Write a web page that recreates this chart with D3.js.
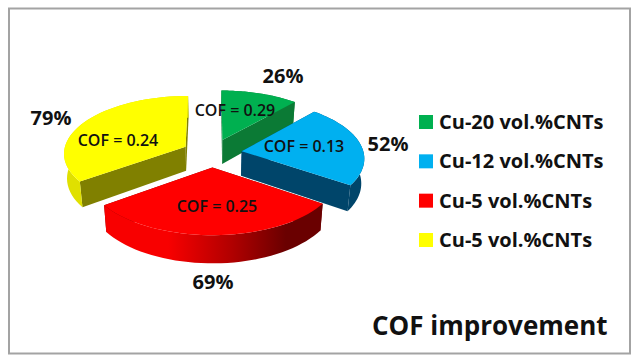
<!DOCTYPE html>
<html>
<head>
<meta charset="utf-8">
<script src="https://cdn.jsdelivr.net/npm/d3@7"></script>
<style>
    html, body { margin: 0; padding: 0; background: #fff; }
    svg { display: block; }
    text { font-family: "Open Sans", Lato, sans-serif; font-weight: 700; fill: #111; }
</style>
</head>
<body>
<div id="chart"></div>
<script>
// Chart values
const categories = ["Cu-20 vol.%CNTs", "Cu-12 vol.%CNTs", "Cu-5 vol.%CNTs", "Cu-5 vol.%CNTs"];
const improvement = [26, 52, 69, 79];
const cofValues = [0.29, 0.13, 0.25, 0.24];
const chartTitle = "COF improvement";

// Colours
const topColors = ["#00b050", "#00b0f0", "#ff0000", "#ffff00"];
const wallColors = ["#0b7a35", "#00456a", "#7a0000", "#808000"];
const rimColors = ["#0b7a35", "#00456a", "url(#redRim)", "#e0e000"];

// Layout: the exploded pie sits on a tilted plane seen in perspective
const width = 634, height = 362;
const pieCfg = { cx: 212, cy: 153, radius: 122, explode: 30, depth: 24.5, tilt: 0.47, persp: 0.00086, shrink: 0.98 };
const cofPos = [[235, 110], [304, 146], [217, 206], [118, 140]];
const pctPos = [[283, 76], [388, 144], [213, 282], [51, 118]];

const svg = d3.select("#chart").append("svg")
    .attr("width", width)
    .attr("height", height);

// Red wedge rim goes from bright to dark, left to right
const grad = svg.append("defs").append("linearGradient")
    .attr("id", "redRim")
    .attr("gradientUnits", "userSpaceOnUse")
    .attr("x1", 104).attr("x2", 318).attr("y1", 0).attr("y2", 0);
grad.append("stop").attr("offset", "0.3").attr("stop-color", "#f80000");
grad.append("stop").attr("offset", "0.6").attr("stop-color", "#b00000");
grad.append("stop").attr("offset", "0.85").attr("stop-color", "#6a0000");

// Outer frame
svg.append("rect")
    .attr("x", 9).attr("y", 8.5)
    .attr("width", 621).attr("height", 345)
    .attr("fill", "#fff")
    .attr("stroke", "#a3a3a3")
    .attr("stroke-width", 2);

const pie = d3.pie().sort(null).value(d => d);
const arcs = pie(improvement);

// plane coordinates (u right, v away from viewer) to screen
function project(u, v) {
    const w = 1 + pieCfg.persp * v;
    return { x: pieCfg.cx + u / w, y: pieCfg.cy - pieCfg.tilt * v / w, w: w };
}

// outline of one wedge on the plane: [apex, arc points...]
function wedgeArc(d) {
    const mid = (d.startAngle + d.endAngle) / 2;
    const ou = pieCfg.explode * Math.sin(mid);
    const ov = pieCfg.explode * Math.cos(mid);
    const pts = d3.range(0, 41).map(i => {
        const a = d.startAngle + (d.endAngle - d.startAngle) * i / 40;
        return project(ou + pieCfg.radius * Math.sin(a), ov + pieCfg.radius * Math.cos(a));
    });
    return { apex: project(ou, ov), pts: pts };
}

const line = d3.line().x(d => d.x).y(d => d.y);
// the bottom face is a bit narrower than the top
const lower = p => ({
    x: pieCfg.cx + (p.x - pieCfg.cx) * pieCfg.shrink,
    y: p.y + pieCfg.depth / p.w
});

// back to front
const drawOrder = [0, 3, 1, 2];
const wedges = svg.selectAll(".wedge")
    .data(drawOrder)
    .enter().append("g")
    .attr("class", "wedge");

wedges.each(function (i) {
    const g = d3.select(this);
    const shape = wedgeArc(arcs[i]);
    const first = shape.pts[0];
    const last = shape.pts[shape.pts.length - 1];

    // the two cut faces
    [first, last].forEach(p => {
        g.append("path")
            .attr("d", line([shape.apex, p, lower(p), lower(shape.apex)]) + "Z")
            .attr("fill", wallColors[i]);
    });

    // outer rim
    g.append("path")
        .attr("d", line(shape.pts.concat(shape.pts.map(lower).reverse())) + "Z")
        .attr("fill", rimColors[i]);

    // top
    g.append("path")
        .attr("d", line([shape.apex].concat(shape.pts)) + "Z")
        .attr("fill", topColors[i]);
});

// COF labels inside the wedges
svg.selectAll(".cof")
    .data(cofValues)
    .enter().append("text")
    .attr("class", "cof")
    .attr("x", (d, i) => cofPos[i][0])
    .attr("y", (d, i) => cofPos[i][1])
    .attr("dy", "0.35em")
    .attr("text-anchor", "middle")
    .style("font-size", "16px")
    .style("font-weight", 600)
    .text(d => "COF = " + d3.format(".2f")(d));

// Percentage labels
svg.selectAll(".pct")
    .data(improvement)
    .enter().append("text")
    .attr("class", "pct")
    .attr("x", (d, i) => pctPos[i][0])
    .attr("y", (d, i) => pctPos[i][1])
    .attr("dy", "0.35em")
    .attr("text-anchor", "middle")
    .style("font-size", "20px")
    .text(d => d + "%");

// Legend
const legendY = d3.scaleLinear().domain([0, 3]).range([122, 240]);
const legend = svg.selectAll(".legend")
    .data(categories)
    .enter().append("g")
    .attr("class", "legend")
    .attr("transform", (d, i) => `translate(419,${legendY(i)})`);

legend.append("rect")
    .attr("x", 0).attr("y", -7)
    .attr("width", 14).attr("height", 14)
    .attr("fill", (d, i) => topColors[i]);

legend.append("text")
    .attr("x", 20)
    .attr("dy", "0.35em")
    .style("font-size", "20px")
    .text(d => d);

// Title
svg.append("text")
    .attr("x", 372)
    .attr("y", 335)
    .style("font-size", "26px")
    .text(chartTitle);
</script>
</body>
</html>
